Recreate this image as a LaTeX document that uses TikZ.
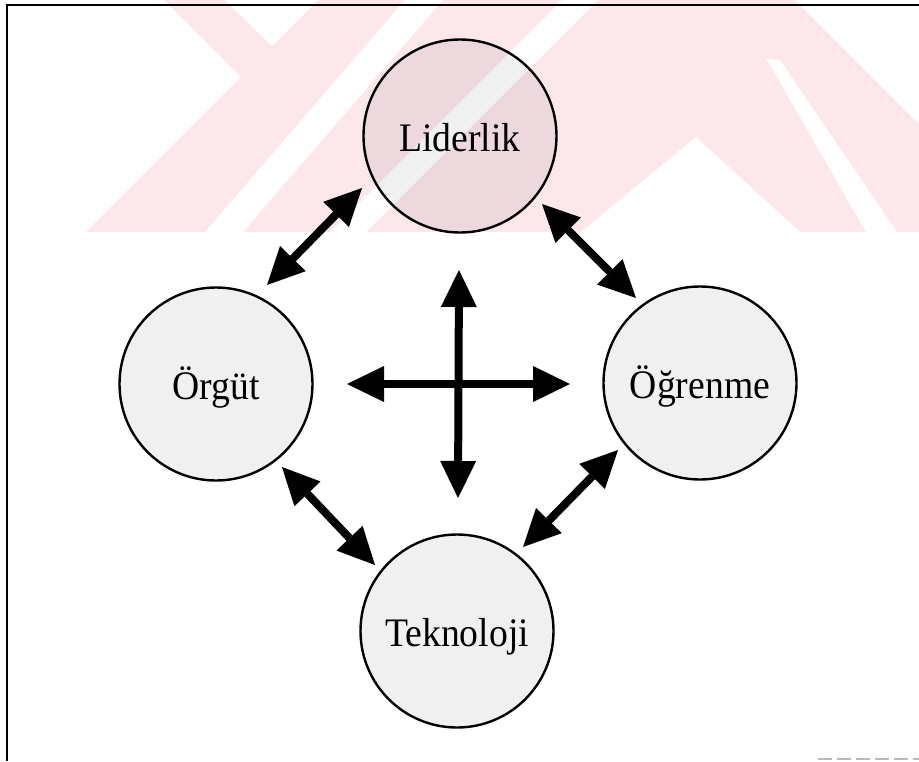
\documentclass[tikz,border=0pt]{standalone}
\usepackage{fontspec}
\setmainfont{Liberation Serif}
\newfontfamily\topicfont{Liberation Serif}[FakeStretch=0.93]
\usetikzlibrary{arrows.meta}
\definecolor{wmpink}{RGB}{252,231,235}
\begin{document}
\begin{tikzpicture}[x=1pt,y=-1pt,
  topic/.style={circle, draw=black, line width=2.4pt, fill=black, fill opacity=0.06,
    text opacity=1, minimum size=193pt, inner sep=0pt,
    font=\topicfont\fontsize{40.5}{44}\selectfont, text height=35pt, text depth=4pt},
  link/.style={line width=8pt,
    {Triangle[length=37pt,width=36pt,line width=0pt]}-{Triangle[length=37pt,width=36pt,line width=0pt]}},
  frame/.style={line width=2.5pt}]
\useasboundingbox (0,0) rectangle (919,761);

% faint logo band behind the top of the figure
\fill[wmpink] (164,0) -- (919,0) -- (919,232) -- (86,232) -- (241,77) -- cycle;
\fill[white] (225,0) -- (318,0) -- (272,46) -- cycle;
\fill[white] (405,0) -- (443,0) -- (243,232) -- (205,232) -- cycle;
\fill[white] (562,0) -- (598,0) -- (366,232) -- (330,232) -- cycle;
\fill[white] (696,137) -- (800,232) -- (581,232) -- cycle;
\fill[white] (766,58) -- (780,60) -- (897,232) -- (866,232) -- cycle;
\fill[white] (795,0) -- (919,0) -- (919,124) -- cycle;

% page frame
\draw[frame] (7,761) -- (7,5) -- (919,5);
\draw[gray!55, line width=1.5pt, dash pattern=on 14pt off 5pt] (818,759) -- (919,759);

% the four topics
\node[topic] (lid) at (460,136) {Liderlik};
\node[topic] (org) at (216,384) {Örgüt};
\node[topic] (ogr) at (700,383) {Öğrenme};
\node[topic] (tek) at (457,631) {Teknoloji};

% ends of the links between neighbouring topics
\coordinate (lo1) at ([shift={(-98,52)}]lid.center);
\coordinate (lo2) at ([shift={(51,-99)}]org.center);
\coordinate (lg1) at ([shift={(82,68)}]lid.center);
\coordinate (lg2) at ([shift={(-64,-85)}]ogr.center);
\coordinate (ot1) at ([shift={(66,83)}]org.center);
\coordinate (ot2) at ([shift={(-82,-66)}]tek.center);
\coordinate (gt1) at ([shift={(-82,67)}]ogr.center);
\coordinate (gt2) at ([shift={(66,-84)}]tek.center);

\draw[link] (lo1) -- (lo2);
\draw[link] (lg1) -- (lg2);
\draw[link] (ot1) -- (ot2);
\draw[link] (gt1) -- (gt2);

% central cross
\coordinate (hub) at (459,384);
\coordinate (hubN) at ([shift={(0,-114)}]hub);
\coordinate (hubS) at ([shift={(-1,114)}]hub);
\coordinate (hubW) at ([shift={(-112,0)}]hub);
\coordinate (hubE) at ([shift={(111,0)}]hub);
\draw[link] (hubN) -- (hubS);
\draw[link] (hubW) -- (hubE);
\end{tikzpicture}
\end{document}
